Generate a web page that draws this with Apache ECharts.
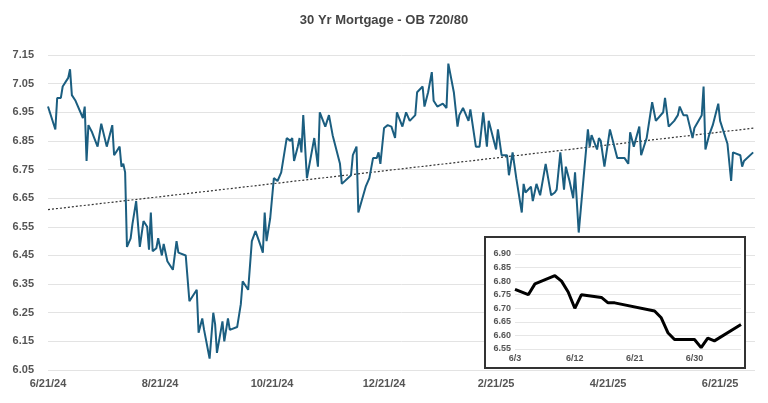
<!DOCTYPE html>
<html lang="en">
<head>
    <meta charset="UTF-8">
    <title>30 Yr Mortgage</title>
    <script src="https://cdn.jsdelivr.net/npm/echarts@6/dist/echarts.min.js"></script>
    <style>html,body{margin:0;padding:0;background:#fff;}</style>
</head>
<body>
<div id="chart" style="width:768px;height:403px;"></div>
<script type="text/javascript">
    // main series: day offset from 6/21/24, rate
    var days = [0,4,5,7,8,11,12,13,15,19,20,21,22,24,27,29,32,33,35,36,39,40,41,42,43,45,46,48,50,52,54,55,56,57,59,60,62,63,65,68,69,70,71,75,77,81,82,84,85,88,90,91,92,95,96,98,99,103,105,106,109,111,113,116,117,118,119,121,123,125,127,130,132,133,134,136,137,138,139,141,143,145,147,148,151,153,155,159,160,165,166,168,169,173,175,177,179,180,181,183,185,187,189,190,193,195,197,200,201,204,205,207,209,210,212,215,217,218,221,223,224,226,229,230,233,235,237,239,240,244,245,247,250,251,253,255,258,259,260,263,264,266,268,271,274,276,277,279,281,282,284,286,287,289,294,295,296,299,300,301,303,306,310,312,314,316,317,319,322,323,326,329,331,335,336,338,341,343,344,346,348,351,352,356,357,358,360,362,365,366,370,372,373,377,378,379,384];
    var rates = [6.97,6.89,7.00,7.00,7.04,7.07,7.10,7.01,6.99,6.93,6.97,6.78,6.905,6.88,6.83,6.91,6.83,6.83,6.905,6.80,6.83,6.76,6.77,6.74,6.48,6.51,6.56,6.64,6.48,6.57,6.55,6.47,6.60,6.465,6.475,6.51,6.45,6.49,6.43,6.40,6.40,6.50,6.46,6.45,6.29,6.33,6.18,6.23,6.19,6.09,6.25,6.21,6.11,6.22,6.15,6.23,6.19,6.20,6.28,6.36,6.33,6.50,6.535,6.48,6.46,6.60,6.50,6.58,6.72,6.71,6.74,6.86,6.85,6.86,6.78,6.83,6.86,6.81,6.94,6.72,6.79,6.86,6.76,6.95,6.90,6.94,6.87,6.77,6.70,6.73,6.80,6.83,6.60,6.69,6.72,6.79,6.79,6.81,6.77,6.895,6.905,6.90,6.86,6.95,6.90,6.95,6.92,6.94,7.02,7.04,6.97,7.02,7.09,6.99,6.97,6.98,6.965,7.12,7.02,6.90,6.94,6.965,6.92,6.96,6.83,6.83,6.95,6.83,6.92,6.82,6.89,6.80,6.80,6.73,6.81,6.72,6.60,6.70,6.67,6.69,6.64,6.70,6.66,6.77,6.66,6.67,6.68,6.81,6.68,6.76,6.71,6.65,6.74,6.53,6.89,6.83,6.87,6.82,6.86,6.85,6.76,6.89,6.79,6.79,6.79,6.77,6.88,6.83,6.90,6.80,6.86,6.985,6.92,6.95,7.00,6.90,6.92,6.94,6.97,6.94,6.94,6.86,6.895,6.94,7.04,6.82,6.87,6.905,6.98,6.92,6.84,6.71,6.81,6.80,6.76,6.78,6.81];
    var tickLabels = ['6/21/24','8/21/24','10/21/24','12/21/24','2/21/25','4/21/25','6/21/25'];
    var trendDays = [0, 385];
    var trendRates = [6.61, 6.895];

    // inset: day offset from 6/3
    var insetDays = [0,2,3,6,7,8,9,10,13,14,15,21,22,23,24,27,28,29,30,34];
    var insetRates = [6.77,6.75,6.79,6.82,6.80,6.76,6.70,6.75,6.74,6.72,6.72,6.69,6.665,6.61,6.585,6.585,6.555,6.59,6.58,6.64];
    var insetLabels = ['6/3','6/12','6/21','6/30'];

    function pairs(xs, ys) {
        var out = [];
        for (var i = 0; i < xs.length; i++) out.push([xs[i], ys[i]]);
        return out;
    }

    var chart = echarts.init(document.getElementById('chart'));
    var labelStyle = {color: '#555', fontWeight: 'bold', fontSize: 11, fontFamily: 'Liberation Sans'};

    var option = {
        animation: false,
        title: {
            text: '30 Yr Mortgage - OB 720/80',
            left: 'center',
            top: 9,
            textStyle: {color: '#444', fontSize: 13, fontWeight: 'bold', fontFamily: 'Liberation Sans'}
        },
        grid: [
            {left: 48, right: 13, top: 55, bottom: 33},
            {left: 515, right: 27, top: 254, bottom: 54}
        ],
        xAxis: [
            {
                type: 'value', gridIndex: 0, min: 0, max: 385, interval: 61,
                axisLine: {show: false}, axisTick: {show: false}, splitLine: {show: false},
                axisLabel: Object.assign({}, labelStyle, {
                    margin: 8,
                    formatter: function (v) { return tickLabels[Math.round(v / 61)] || ''; }
                })
            },
            {
                type: 'value', gridIndex: 1, min: 0, max: 34, interval: 9, z: 4,
                axisLine: {show: false}, axisTick: {show: false}, splitLine: {show: false},
                axisLabel: Object.assign({}, labelStyle, {
                    fontSize: 9, margin: 5,
                    formatter: function (v) { return insetLabels[Math.round(v / 9)] || ''; }
                })
            }
        ],
        yAxis: [
            {
                type: 'value', gridIndex: 0, min: 6.05, max: 7.15, interval: 0.1,
                axisLine: {show: false}, axisTick: {show: false},
                splitLine: {lineStyle: {color: '#e3e3e3'}},
                axisLabel: Object.assign({}, labelStyle, {
                    margin: 14,
                    formatter: function (v) { return v.toFixed(2); }
                })
            },
            {
                type: 'value', gridIndex: 1, min: 6.55, max: 6.90, interval: 0.05, z: 4,
                axisLine: {show: false}, axisTick: {show: false},
                splitLine: {lineStyle: {color: '#e6e6e6'}},
                axisLabel: Object.assign({}, labelStyle, {
                    fontSize: 9, margin: 4,
                    formatter: function (v) { return v.toFixed(2); }
                })
            }
        ],
        graphic: [
            {
                type: 'rect', z: 1,
                shape: {x: 485, y: 237, width: 260, height: 131},
                style: {fill: '#fff', stroke: '#333', lineWidth: 2}
            }
        ],
        series: [
            {
                type: 'line', xAxisIndex: 0, yAxisIndex: 0, z: 3,
                data: pairs(days, rates), symbol: 'none',
                lineStyle: {color: '#1b5e80', width: 2}
            },
            {
                type: 'line', xAxisIndex: 0, yAxisIndex: 0, z: 2,
                data: pairs(trendDays, trendRates), symbol: 'none',
                lineStyle: {color: '#333', width: 1.2, type: [2, 2]}
            },
            {
                type: 'line', xAxisIndex: 1, yAxisIndex: 1, z: 5,
                data: pairs(insetDays, insetRates), symbol: 'none',
                lineStyle: {color: '#000', width: 3}
            }
        ]
    };
    chart.setOption(option);
</script>
</body>
</html>
